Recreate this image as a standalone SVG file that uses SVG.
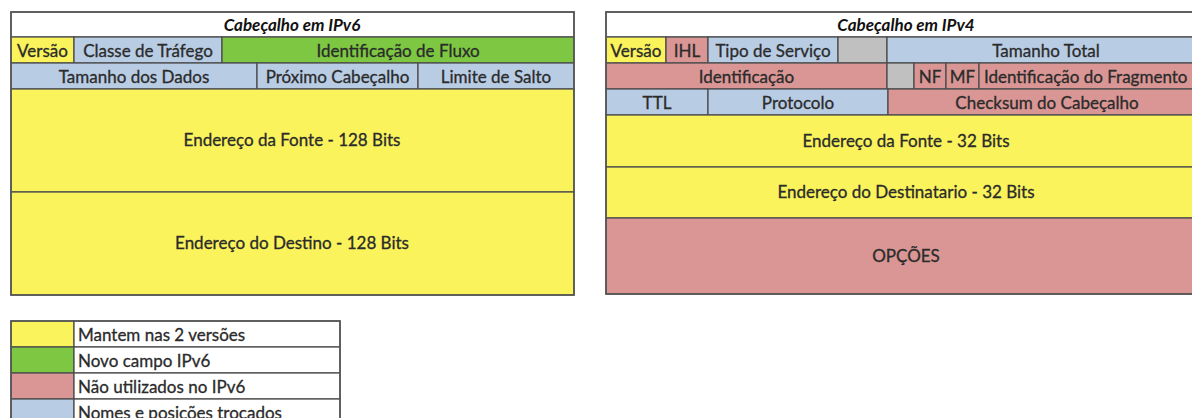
<svg xmlns="http://www.w3.org/2000/svg" width="1192" height="418" viewBox="0 0 1192 418">
<style>
rect{stroke:#4d4d4d;stroke-width:1.3}
.y{fill:#faf35c}.g{fill:#7dc742}.p{fill:#d99694}.b{fill:#b8cce4}.k{fill:#c0c0c0}.w{fill:#ffffff}
text{font-family:Lato,"Liberation Sans",sans-serif;font-size:17px;fill:#2b2b2b;stroke:#2b2b2b;stroke-width:0.3;text-anchor:middle}
.t{font-weight:bold;font-style:italic;fill:#111;stroke:none}
.l{text-anchor:start}
.o{fill:none;stroke:#555;stroke-width:1.6}
</style>
<g id="ipv6">
<rect class="w" x="11" y="12" width="563" height="25"/>
<text class="t" x="292" y="31">Cabeçalho em IPv6</text>
<rect class="y" x="11" y="37" width="63" height="26"/><text x="42.5" y="57">Versão</text>
<rect class="b" x="74" y="37" width="148" height="26"/><text x="148" y="57">Classe de Tráfego</text>
<rect class="g" x="222" y="37" width="352" height="26"/><text x="398" y="57">Identificação de Fluxo</text>
<rect class="b" x="11" y="63" width="246" height="26"/><text x="134" y="83">Tamanho dos Dados</text>
<rect class="b" x="257" y="63" width="161" height="26"/><text x="337.5" y="83">Próximo Cabeçalho</text>
<rect class="b" x="418" y="63" width="156" height="26"/><text x="496" y="83">Limite de Salto</text>
<rect class="y" x="11" y="89" width="563" height="103"/><text x="292" y="146">Endereço da Fonte - 128 Bits</text>
<rect class="y" x="11" y="192" width="563" height="103"/><text x="292" y="249">Endereço do Destino - 128 Bits</text>
<rect class="o" x="11" y="12" width="563" height="283"/>
</g>
<g id="ipv4">
<rect class="w" x="606" y="12" width="600" height="25"/>
<text class="t" x="906" y="31">Cabeçalho em IPv4</text>
<rect class="y" x="606" y="37" width="60" height="26"/><text x="636" y="57">Versão</text>
<rect class="p" x="666" y="37" width="42" height="26"/><text x="687" y="57">IHL</text>
<rect class="b" x="708" y="37" width="130" height="26"/><text x="773" y="57">Tipo de Serviço</text>
<rect class="k" x="838" y="37" width="49" height="26"/>
<rect class="b" x="887" y="37" width="319" height="26"/><text x="1046" y="57">Tamanho Total</text>
<rect class="p" x="606" y="63" width="281" height="26"/><text x="746.5" y="83">Identificação</text>
<rect class="k" x="887" y="63" width="27" height="26"/>
<rect class="p" x="914" y="63" width="32" height="26"/><text x="930" y="83">NF</text>
<rect class="p" x="946" y="63" width="33" height="26"/><text x="962.5" y="83">MF</text>
<rect class="p" x="979" y="63" width="227" height="26"/><text class="l" x="984" y="83">Identificação do Fragmento</text>
<rect class="b" x="606" y="89" width="102" height="26"/><text x="657" y="109">TTL</text>
<rect class="b" x="708" y="89" width="180" height="26"/><text x="798" y="109">Protocolo</text>
<rect class="p" x="888" y="89" width="318" height="26"/><text x="1047" y="109">Checksum do Cabeçalho</text>
<rect class="y" x="606" y="115" width="600" height="52"/><text x="906" y="147">Endereço da Fonte - 32 Bits</text>
<rect class="y" x="606" y="167" width="600" height="51"/><text x="906" y="198">Endereço do Destinatario - 32 Bits</text>
<rect class="p" x="606" y="218" width="600" height="76"/><text x="906" y="262">OPÇÕES</text>
<rect class="o" x="606" y="12" width="600" height="282"/>
</g>
<g id="legenda">
<rect class="y" x="11" y="321" width="63" height="26"/>
<rect class="w" x="74" y="321" width="266" height="26"/><text class="l" x="78" y="341">Mantem nas 2 versões</text>
<rect class="g" x="11" y="347" width="63" height="26"/>
<rect class="w" x="74" y="347" width="266" height="26"/><text class="l" x="78" y="367">Novo campo IPv6</text>
<rect class="p" x="11" y="373" width="63" height="26"/>
<rect class="w" x="74" y="373" width="266" height="26"/><text class="l" x="78" y="393">Não utilizados no IPv6</text>
<rect class="b" x="11" y="399" width="63" height="26"/>
<rect class="w" x="74" y="399" width="266" height="26"/><text class="l" x="78" y="419">Nomes e posições trocados</text>
<rect class="o" x="11" y="321" width="329" height="104"/>
</g>
<g id="connectors"/>
</svg>
